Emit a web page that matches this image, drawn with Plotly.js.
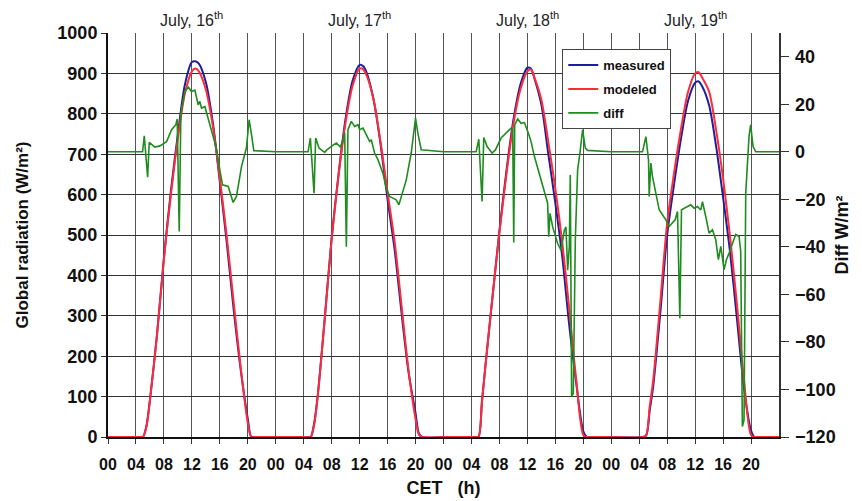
<!DOCTYPE html>
<html>
<head>
<meta charset="utf-8">
<script src="https://cdn.plot.ly/plotly-3.0.1.min.js"></script>
<style>
html,body{margin:0;padding:0;background:#fff;}
#chart{width:862px;height:501px;}
</style>
</head>
<body>
<div id="chart"></div>
<script>
// ---------- DATA ----------
var DAY_LABELS = ['July, 16', 'July, 17', 'July, 18', 'July, 19'];
var HOUR_TICK_LABELS = ['00', '04', '08', '12', '16', '20'];
var SERIES_NAMES = ['measured', 'modeled', 'diff'];

// hours of day at which radiation was read (shared by all days)
var RAD_HOURS = [0, 4.5, 5, 5.5, 6, 7, 8, 9, 10, 11, 12, 12.5, 13, 14, 15, 16, 17, 18, 19, 20, 20.5, 21, 24];

var MODELED_D1 = [0, 0, 0, 25, 90, 250, 440, 600, 740, 850, 905, 912, 905, 860, 770, 640, 495, 330, 170, 35, 0, 0, 0];
var MODELED_D2 = [0, 0, 0, 30, 100, 290, 490, 650, 780, 870, 912, 910, 895, 835, 730, 605, 485, 325, 165, 45, 5, 0, 0];
var MODELED_D3 = [0, 0, 0, 85, 175, 345, 505, 650, 775, 860, 905, 910, 890, 835, 730, 615, 480, 315, 140, 5, 0, 0, 0];
var MODELED_D4 = [0, 0, 4, 75, 140, 330, 530, 655, 765, 855, 900, 903, 890, 855, 760, 640, 495, 325, 140, 5, 0, 0, 0];

var MEASURED_D1 = [0, 0, 0, 28, 92, 252, 444, 609, 750, 872, 928, 930, 924, 878, 778, 632, 480, 312, 165, 45, 0, 0, 0];
var MEASURED_D2 = [0, 0, 0, 35, 102, 292, 493, 653, 789, 882, 921, 918, 902, 835, 724, 588, 465, 307, 160, 59, 8, 0, 0];
var MEASURED_D3 = [0, 0, 0, 88, 177, 345, 510, 658, 785, 872, 914, 912, 888, 823, 700, 579, 445, 275, 132, 14, 0, 0, 0];
var MEASURED_D4 = [0, 0, 4, 65, 125, 304, 500, 627, 741, 833, 877, 880, 868, 821, 720, 593, 457, 290, 120, 16, 0, 0, 0];

// diff (W/m2) read per day: hour of day and value
var DIFF_H1 = [0, 4.95, 5.19, 5.67, 5.9, 6.71, 7.43, 8.38, 9.1, 9.71, 9.9, 10.19, 10.43, 11.0, 11.5, 11.95, 12.43, 12.9, 13.14, 13.38, 13.86, 14.33, 15.05, 15.5, 16.0, 16.38, 17.2, 17.67, 17.9, 18.38, 19.1, 19.8, 20.19, 20.5, 20.86, 24];
var DIFF_V1 = [0, 0, 6.7, -10.7, 4, 2, 2.5, 4.3, 9.3, 11.4, 13.8, -33.5, 16.3, 25.4, 27.2, 25.4, 26, 19.8, 21.2, 18.4, 19, 14.2, 7.2, 1.6, -7.6, -13.9, -14.6, -18.8, -21.3, -18.8, -6.2, 1.6, 13.5, 7.9, 0.5, 0];

var DIFF_H2 = [0, 4.62, 4.95, 5.48, 5.71, 6.19, 7.0, 7.24, 8.1, 8.67, 9.24, 9.62, 9.86, 10.1, 10.33, 10.81, 11.29, 11.76, 12.0, 12.48, 12.95, 13.43, 13.67, 14.14, 14.62, 15.33, 15.81, 16.29, 16.76, 17.24, 17.62, 17.95, 18.67, 19.38, 19.71, 20.0, 20.33, 20.81, 24];
var DIFF_V2 = [0, 0, 5.8, -17.4, 5.8, 1.6, -0.2, 0.6, 2.6, 3.7, 2.0, 5.1, 8.0, -39.9, 9.3, 12.8, 10.7, 11.4, 9.3, 10.0, 7.2, 4.4, 5.1, -0.5, -3.3, -9.0, -15.3, -18.8, -19.5, -20.2, -22.3, -18.8, -11.8, -0.5, 7.2, 14.2, 7.9, 0.9, 0];

var DIFF_H3 = [0, 4.67, 5.05, 5.52, 5.76, 6.24, 6.95, 7.43, 8.24, 8.95, 9.67, 9.9, 10.05, 10.19, 10.62, 11.1, 11.57, 12.05, 12.52, 13.0, 13.71, 14.43, 14.9, 15.05, 15.24, 15.62, 16.0, 16.33, 16.81, 17.29, 17.52, 17.76, 18.0, 18.14, 18.33, 18.57, 18.86, 19.19, 19.52, 19.9, 20.29, 20.62, 24];
var DIFF_V3 = [0, 0, 5.3, -20.9, 6.0, 2.2, -0.5, 0.8, 5.8, 7.8, 10.0, 9.3, -38.2, 11.4, 13.8, 12.0, 12.3, 8.6, 4.4, -1.9, -9.0, -16.7, -21.6, -35.7, -25.9, -31.6, -35.7, -38.6, -41.4, -33, -31.6, -49.8, -40, -9.7, -103, -101.6, -37, -7.6, -0.5, 9.3, 1.6, 0.6, 0];

var DIFF_H4 = [0, 4.48, 4.95, 5.33, 5.43, 5.67, 5.9, 6.38, 6.86, 7.33, 7.81, 8.29, 8.76, 9.14, 9.48, 9.81, 10.05, 10.43, 10.9, 11.38, 11.86, 12.33, 12.81, 13.05, 13.52, 14.0, 14.48, 14.95, 15.33, 15.67, 16.14, 16.48, 16.86, 17.33, 17.81, 18.29, 18.52, 18.76, 19.0, 19.24, 19.48, 19.71, 19.95, 20.29, 20.67, 24];
var DIFF_V4 = [0, 0, 6.4, -3.3, -18.8, -4.7, -10.4, -17.4, -24.4, -26.5, -28.6, -31.4, -30, -28.6, -25.1, -70, -24.4, -23.7, -23, -22.3, -23.7, -23, -24.4, -21, -27.2, -34.2, -32.8, -37, -45.4, -39.8, -49.6, -45.4, -42.6, -38.4, -34.8, -35.6, -41.9, -115.6, -112.8, -17.4, -2.1, 6.4, 11.4, 2.2, 0, 0];

// ---------- BUILD ----------
var MEASURED = [MEASURED_D1, MEASURED_D2, MEASURED_D3, MEASURED_D4];
var MODELED = [MODELED_D1, MODELED_D2, MODELED_D3, MODELED_D4];
var DIFF_H = [DIFF_H1, DIFF_H2, DIFF_H3, DIFF_H4];
var DIFF_V = [DIFF_V1, DIFF_V2, DIFF_V3, DIFF_V4];

function shift(hours, d) { return hours.map(function (h) { return d * 24 + h; }); }

var tickvals = [], ticktext = [];
for (var d = 0; d < DAY_LABELS.length; d++) {
  for (var k = 0; k < HOUR_TICK_LABELS.length; k++) {
    tickvals.push(d * 24 + k * 4);
    ticktext.push(HOUR_TICK_LABELS[k]);
  }
}

var FONT = 'Liberation Sans, Arial, sans-serif';
var C_MEAS = '#1f1f9a', C_MOD = '#ff2a3a', C_DIFF = '#1e8c1e';

var measTraces = [], modTraces = [], diffX = [], diffY = [];
for (var d = 0; d < DAY_LABELS.length; d++) {
  measTraces.push({x: shift(RAD_HOURS, d), y: MEASURED[d], name: SERIES_NAMES[0], type: 'scatter', mode: 'lines',
    legendgroup: 'a', showlegend: d === 0,
    line: {color: C_MEAS, width: 2, shape: 'spline', smoothing: 0.8}, cliponaxis: false});
  modTraces.push({x: shift(RAD_HOURS, d), y: MODELED[d], name: SERIES_NAMES[1], type: 'scatter', mode: 'lines',
    legendgroup: 'b', showlegend: d === 0,
    line: {color: C_MOD, width: 2, shape: 'spline', smoothing: 0.8}, cliponaxis: false});
  diffX = diffX.concat(shift(DIFF_H[d], d));
  diffY = diffY.concat(DIFF_V[d]);
}
var diffTrace = {x: diffX, y: diffY, name: SERIES_NAMES[2], type: 'scatter', mode: 'lines', yaxis: 'y2',
  legendgroup: 'c', line: {color: C_DIFF, width: 1.6}, cliponaxis: false};

var traces = measTraces.concat(modTraces).concat([diffTrace]);

var annotations = DAY_LABELS.map(function (lab, i) {
  return {
    x: i * 24 + 12, y: 1, xref: 'x', yref: 'paper', yanchor: 'bottom', yshift: 2,
    text: lab + '<sup>th</sup>', showarrow: false,
    font: {family: FONT, size: 16, color: '#222'}
  };
});

var layout = {
  width: 862, height: 501,
  margin: {l: 108, r: 83, t: 33, b: 64},
  paper_bgcolor: '#fff', plot_bgcolor: '#fff',
  font: {family: FONT, color: '#111'},
  showlegend: true,
  legend: {
    x: 0.677, y: 0.96, xanchor: 'left', yanchor: 'top',
    bgcolor: '#fff', bordercolor: '#444', borderwidth: 1,
    font: {family: FONT, size: 13, color: '#111', weight: 'bold'},
    traceorder: 'grouped', tracegroupgap: 4
  },
  xaxis: {
    range: [0, 96], tickvals: tickvals, ticktext: ticktext,
    showgrid: true, gridcolor: '#555', gridwidth: 1,
    showline: true, linecolor: '#111', linewidth: 2, layer: 'below traces',
    ticks: 'outside', ticklen: 5, tickcolor: '#333', ticklabelstandoff: 7,
    tickfont: {family: FONT, size: 16, color: '#111', weight: 'bold'},
    zeroline: false,
    title: {text: 'CET\u00a0\u00a0 (h)', font: {family: FONT, size: 18, color: '#111', weight: 'bold'}, standoff: 9}
  },
  yaxis: {
    range: [0, 1000], dtick: 100, tick0: 0,
    showgrid: true, gridcolor: '#333', gridwidth: 1,
    showline: true, linecolor: '#111', linewidth: 2, layer: 'below traces',
    ticks: 'outside', ticklen: 5, tickcolor: '#333',
    tickfont: {family: FONT, size: 18, color: '#111', weight: 'bold'},
    zeroline: false,
    title: {text: 'Global radiation (W/m²)', font: {family: FONT, size: 17, color: '#111', weight: 'bold'}, standoff: 24}
  },
  yaxis2: {
    overlaying: 'y', side: 'right', range: [-120, 50],
    tickvals: [-120, -100, -80, -60, -40, -20, 0, 20, 40],
    showgrid: false, zeroline: false,
    showline: true, linecolor: '#333', linewidth: 1.5,
    ticks: 'outside', ticklen: 8, tickcolor: '#333', ticklabelstandoff: 3,
    tickfont: {family: FONT, size: 18, color: '#111', weight: 'bold'},
    title: {text: 'Diff W/m²', font: {family: FONT, size: 18, color: '#111', weight: 'bold'}, standoff: 1}
  },
  annotations: annotations
};

Plotly.newPlot('chart', traces, layout, {displayModeBar: false, staticPlot: true});
</script>
</body>
</html>
